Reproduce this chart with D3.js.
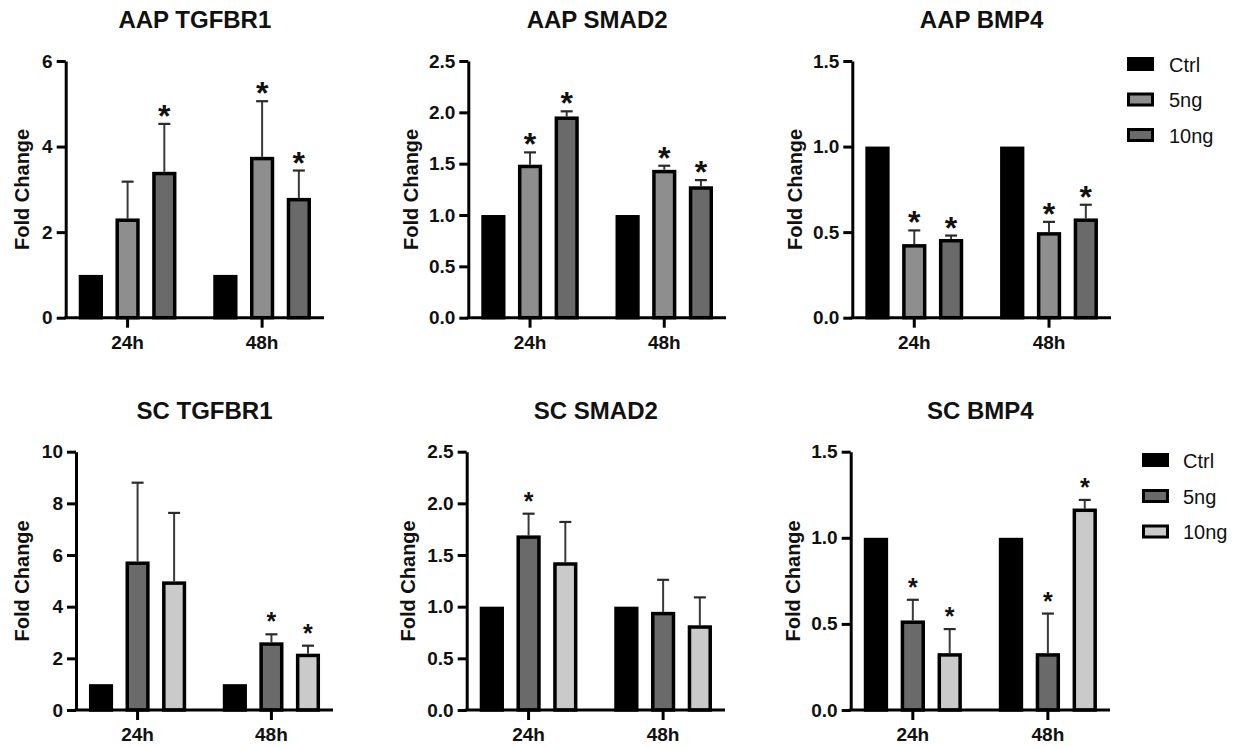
<!DOCTYPE html>
<html>
<head>
<meta charset="utf-8">
<script src="https://cdn.jsdelivr.net/npm/d3@7"></script>
<style>
  body { margin: 0; background: #fff; }
  text { font-family: "Liberation Sans", Arial, sans-serif; }
</style>
</head>
<body>
<div id="chart-area"></div>
<script>
// data
var timepoints = ["24h", "48h"];
var treatments = ["Ctrl", "5ng", "10ng"];

var aapTgfbr1Mean = [[1, 2.32, 3.41], [1, 3.76, 2.80]];
var aapTgfbr1Err  = [[0, 0.86, 1.12], [0, 1.30, 0.64]];
var aapTgfbr1Sig  = [[0, 0, 1], [0, 1, 1]];

var aapSmad2Mean = [[1, 1.49, 1.96], [1, 1.44, 1.28]];
var aapSmad2Err  = [[0, 0.12, 0.05], [0, 0.04, 0.06]];
var aapSmad2Sig  = [[0, 1, 1], [0, 1, 1]];

var aapBmp4Mean = [[1, 0.43, 0.46], [1, 0.50, 0.58]];
var aapBmp4Err  = [[0, 0.08, 0.02], [0, 0.06, 0.08]];
var aapBmp4Sig  = [[0, 1, 1], [0, 1, 1]];

var scTgfbr1Mean = [[1, 5.75, 4.98], [1, 2.62, 2.18]];
var scTgfbr1Err  = [[0, 3.05, 2.65], [0, 0.31, 0.31]];
var scTgfbr1Sig  = [[0, 0, 0], [0, 1, 1]];

var scSmad2Mean = [[1, 1.69, 1.43], [1, 0.95, 0.82]];
var scSmad2Err  = [[0, 0.21, 0.39], [0, 0.31, 0.27]];
var scSmad2Sig  = [[0, 1, 0], [0, 0, 0]];

var scBmp4Mean = [[1, 0.52, 0.33], [1, 0.33, 1.17]];
var scBmp4Err  = [[0, 0.12, 0.14], [0, 0.23, 0.05]];
var scBmp4Sig  = [[0, 1, 1], [0, 1, 1]];

var ticksTgfbr1Aap = [0, 2, 4, 6];
var ticksTgfbr1Sc  = [0, 2, 4, 6, 8, 10];
var ticksSmad2     = [0, 0.5, 1.0, 1.5, 2.0, 2.5];
var ticksBmp4      = [0, 0.5, 1.0, 1.5];

var aapColors = ["#000000", "#8e8e8e", "#6a6a6a"];
var scColors  = ["#000000", "#6a6a6a", "#cacaca"];

// layout
var width = 1238, height = 747;
var panels = [
    {title: "AAP TGFBR1", mean: aapTgfbr1Mean, err: aapTgfbr1Err, sig: aapTgfbr1Sig, ticks: ticksTgfbr1Aap, fmt: "d",
     x0: 65.7, x1: 324, top: 61, bottom: 317.7, labelOff: 44, colors: aapColors, star: 32, starDy: 3},
    {title: "AAP SMAD2", mean: aapSmad2Mean, err: aapSmad2Err, sig: aapSmad2Sig, ticks: ticksSmad2, fmt: ".1f",
     x0: 468.3, x1: 726, top: 61, bottom: 317.7, labelOff: 57, colors: aapColors, star: 32, starDy: 3},
    {title: "AAP BMP4", mean: aapBmp4Mean, err: aapBmp4Err, sig: aapBmp4Sig, ticks: ticksBmp4, fmt: ".1f",
     x0: 852.3, x1: 1111, top: 61, bottom: 317.7, labelOff: 57, colors: aapColors, star: 32, starDy: 3,
     legend: {x: 1127, y: [64, 99.5, 135], tx: 1169}},
    {title: "SC TGFBR1", mean: scTgfbr1Mean, err: scTgfbr1Err, sig: scTgfbr1Sig, ticks: ticksTgfbr1Sc, fmt: "d",
     x0: 76, x1: 333, top: 451.7, bottom: 710, labelOff: 54, colors: scColors, star: 25, starDy: -4},
    {title: "SC SMAD2", mean: scSmad2Mean, err: scSmad2Err, sig: scSmad2Sig, ticks: ticksSmad2, fmt: ".1f",
     x0: 466.7, x1: 725, top: 451.7, bottom: 710, labelOff: 58.5, colors: scColors, star: 25, starDy: -4},
    {title: "SC BMP4", mean: scBmp4Mean, err: scBmp4Err, sig: scBmp4Sig, ticks: ticksBmp4, fmt: ".1f",
     x0: 850.7, x1: 1110, top: 451.7, bottom: 710, labelOff: 58, colors: scColors, star: 25, starDy: -4,
     legend: {x: 1142, y: [460, 496, 531.5], tx: 1183}}
];

var svg = d3.select("#chart-area").append("svg")
    .attr("width", width)
    .attr("height", height);

var barStroke = 3.5;

panels.forEach(function(p) {
    var g = svg.append("g");

    var x = d3.scaleBand()
        .domain(timepoints)
        .range([p.x0, p.x1])
        .paddingInner(0.2)
        .paddingOuter(0.06);

    var xs = d3.scaleBand()
        .domain(treatments)
        .range([0, x.bandwidth()])
        .paddingInner(0.34)
        .paddingOuter(0.135);

    var y = d3.scaleLinear()
        .domain([0, d3.max(p.ticks)])
        .range([p.bottom, p.top]);

    var rows = [];
    timepoints.forEach(function(t, i) {
        treatments.forEach(function(s, j) {
            rows.push({t: t, s: s, j: j, v: p.mean[i][j], e: p.err[i][j], sig: p.sig[i][j]});
        });
    });

    var bars = g.selectAll("g.bar")
        .data(rows)
        .enter()
        .append("g")
        .attr("class", "bar")
        .attr("transform", function(d) { return "translate(" + (x(d.t) + xs(d.s)) + ",0)"; });

    // error bars (upper only)
    var bw = xs.bandwidth();
    bars.filter(function(d) { return d.e > 0; })
        .append("line")
        .attr("x1", bw / 2).attr("x2", bw / 2)
        .attr("y1", function(d) { return y(d.v); })
        .attr("y2", function(d) { return y(d.v + d.e); })
        .attr("stroke", "#3a3a3a")
        .attr("stroke-width", 2);
    bars.filter(function(d) { return d.e > 0; })
        .append("line")
        .attr("x1", bw / 2 - 6).attr("x2", bw / 2 + 6)
        .attr("y1", function(d) { return y(d.v + d.e); })
        .attr("y2", function(d) { return y(d.v + d.e); })
        .attr("stroke", "#2a2a2a")
        .attr("stroke-width", 2.2);

    bars.append("rect")
        .attr("x", barStroke / 2)
        .attr("y", function(d) { return y(d.v) + barStroke / 2; })
        .attr("width", bw - barStroke)
        .attr("height", function(d) { return y(0) - y(d.v) - barStroke / 2; })
        .attr("fill", function(d) { return p.colors[d.j]; })
        .attr("stroke", "#000")
        .attr("stroke-width", barStroke);

    bars.filter(function(d) { return d.sig; })
        .append("text")
        .attr("x", bw / 2)
        .attr("y", function(d) { return y(d.v + d.e) + p.starDy; })
        .attr("text-anchor", "middle")
        .attr("font-size", p.star + "px")
        .attr("font-weight", "bold")
        .attr("fill", "#111")
        .text("*");

    // axes
    var leftAxis = d3.axisLeft(y)
        .tickValues(p.ticks)
        .tickFormat(d3.format(p.fmt))
        .tickSize(9)
        .tickSizeOuter(0)
        .tickPadding(4);

    var ya = g.append("g")
        .attr("class", "left axis")
        .attr("transform", "translate(" + p.x0 + ",0)")
        .call(leftAxis);
    ya.selectAll("text")
        .attr("font-size", "19px")
        .attr("font-weight", "bold")
        .attr("fill", "#111");

    var bottomAxis = d3.axisBottom(x)
        .tickSize(10)
        .tickSizeOuter(0)
        .tickPadding(8);

    var xa = g.append("g")
        .attr("class", "bottom axis")
        .attr("transform", "translate(0," + p.bottom + ")")
        .call(bottomAxis);
    xa.selectAll("text")
        .attr("font-size", "19px")
        .attr("font-weight", "bold")
        .attr("fill", "#111");

    g.selectAll(".axis path, .axis line")
        .attr("stroke", "#000")
        .attr("stroke-width", 3);
    xa.select("path").attr("d", "M" + (p.x0 - 1.5) + ",0H" + p.x1);

    // labels
    g.append("text")
        .attr("x", (p.x0 + p.x1) / 2)
        .attr("y", p.top - 33)
        .attr("text-anchor", "middle")
        .attr("font-size", "24px")
        .attr("font-weight", "bold")
        .attr("fill", "#111")
        .text(p.title);

    g.append("text")
        .attr("transform", "translate(" + (p.x0 - p.labelOff) + "," + ((p.top + p.bottom) / 2) + ") rotate(-90)")
        .attr("dy", "0.35em")
        .attr("text-anchor", "middle")
        .attr("font-size", "20px")
        .attr("font-weight", "bold")
        .attr("fill", "#111")
        .text("Fold Change");

    if (p.legend) {
        var lg = g.append("g").attr("class", "legend");
        treatments.forEach(function(s, j) {
            lg.append("rect")
                .attr("x", p.legend.x + 1.5)
                .attr("y", p.legend.y[j] - 5.5)
                .attr("width", 24)
                .attr("height", 11)
                .attr("fill", p.colors[j])
                .attr("stroke", "#000")
                .attr("stroke-width", 3);
            lg.append("text")
                .attr("x", p.legend.tx)
                .attr("y", p.legend.y[j] + 7.5)
                .attr("font-size", "20px")
                .attr("fill", "#111")
                .text(s);
        });
    }
});
</script>
</body>
</html>
